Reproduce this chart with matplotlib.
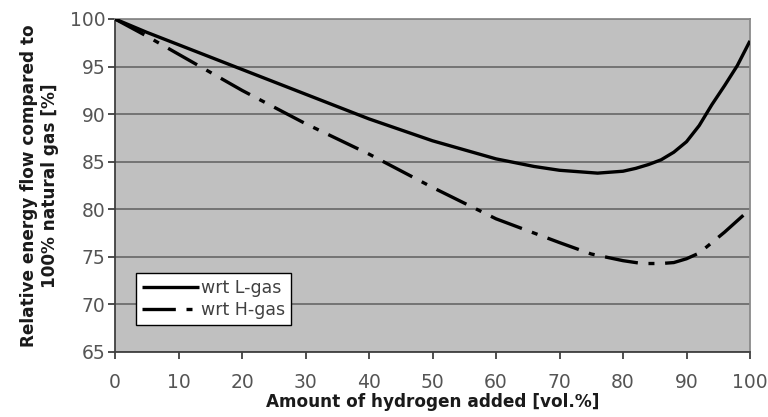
import matplotlib
matplotlib.use("Agg")
import matplotlib.pyplot as plt

x_l = [0, 5, 10, 20, 30, 40, 50, 60, 66, 70, 76, 80, 82, 84, 86, 88, 90, 92, 94, 96, 98, 100]
y_l = [100, 98.6, 97.3, 94.7, 92.1, 89.5, 87.2, 85.3, 84.5, 84.1, 83.8, 84.0, 84.3, 84.7, 85.2, 86.0, 87.1, 88.8, 91.0, 93.0, 95.1, 97.7]

x_h = [0, 5, 10, 20, 30, 40, 50, 60, 70, 75, 80, 83, 86, 88, 90, 92, 94, 96, 98, 100]
y_h = [100, 98.2, 96.3, 92.5, 89.0, 85.8, 82.3, 79.0, 76.5, 75.3, 74.6, 74.3, 74.3, 74.4, 74.8, 75.4, 76.5, 77.6, 78.8, 80.0]

labels = ["wrt L-gas", "wrt H-gas"]
xticks = list(range(0, 101, 10))
yticks = list(range(65, 101, 5))

plt.rcParams['font.family'] = ['DejaVu Sans']
fig = plt.figure(figsize=(7.68, 4.17), dpi=100)
ax = fig.add_axes([115/768, 1-352/417, 635/768, 333/417])
ax.set_facecolor('#c0c0c0')
for yv in yticks:
    ax.axhline(yv, color='#6e6e6e', lw=1.3, zorder=1)
ax.plot(x_l, y_l, color='black', lw=2.4, label=labels[0], zorder=3, solid_capstyle='butt')
ax.plot(x_h, y_h, color='black', lw=2.4, label=labels[1], zorder=3,
        linestyle=(0, (10, 3.2, 1.8, 3.2)), dash_capstyle='butt')
ax.set_xlim(0, 100)
ax.set_ylim(65, 100)
ax.set_xticks(xticks)
ax.set_yticks(yticks)
ax.tick_params(axis='both', direction='out', length=5, width=1.3, color='#404040',
               labelsize=13.5, labelcolor='#555555')
ax.tick_params(axis='x', pad=10)
ax.tick_params(axis='y', pad=2)
for s in ['top', 'right']:
    ax.spines[s].set_color('#8a8a8a')
    ax.spines[s].set_linewidth(1.3)
for s in ['left', 'bottom']:
    ax.spines[s].set_color('#404040')
    ax.spines[s].set_linewidth(1.3)
ax.set_xlabel('Amount of hydrogen added [vol.%]', fontsize=12.2, fontweight='bold', labelpad=1,
              color='#1a1a1a')
ax.set_ylabel('Relative energy flow compared to\n100% natural gas [%]', fontsize=12.2,
              fontweight='bold', labelpad=8, linespacing=1.15, color='#1a1a1a')
leg = ax.legend(loc='lower left', bbox_to_anchor=(0.033, 0.08), frameon=True, fancybox=False,
                edgecolor='black', facecolor='white', framealpha=1, fontsize=12.5,
                handlelength=3.3, handletextpad=0.1, borderpad=0.35, labelspacing=0.25,
                borderaxespad=0)
leg.get_frame().set_linewidth(1.0)
for t in leg.get_texts():
    t.set_color('#404040')
fig.savefig('out.png', dpi=100)
